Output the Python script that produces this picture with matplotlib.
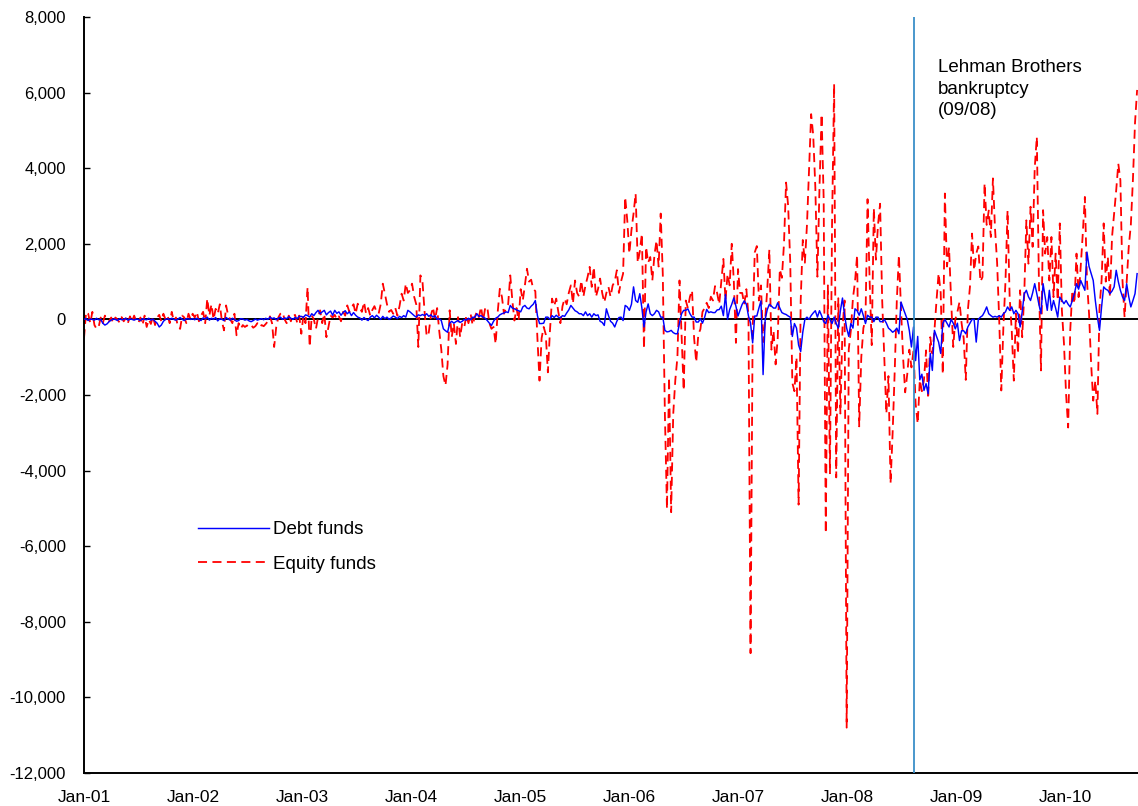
import numpy as np
import pandas as pd
import matplotlib
matplotlib.use('Agg')
import matplotlib.pyplot as plt
import matplotlib.dates as mdates
from matplotlib.ticker import FuncFormatter, MultipleLocator

plt.rcParams['font.family'] = ['Liberation Sans', 'DejaVu Sans']

# Weekly net flows (first week ending 2001-01-05), one list per calendar block
equity_2001 = [-500, 200, 150, -100, 200, -150, -250, -200, 50, -100, 100, 0, -50, 50, -100, 50, 0, -80, 60, -50, 30, -100, 80, -60, 100, -50,
               -100, 50, -150, 100, -200, 0, -120, 80, -150, 50, 120, -50, 150, 0, 100, -100, 200, -50, 50, -200, -250, 100, 50, -100, 150, 0]
equity_2002 = [150, 50, 200, -50, 100, 200, -100, 550, 100, 400, 0, 280, 150, 400, -50, -290, 370, 100, 0, -100, 150, -420, -100, -250, -150, -200,
               -160, -200, -150, -220, -180, -100, -200, -150, -180, -120, -50, 80, -100, -730, -200, 50, 150, 190, 0, -100, 100, -50, 80, 120, -80, 100]
equity_2003 = [-380, 100, -100, 850, -730, 100, 0, -250, 50, 240, -100, 150, -470, -200, 100, 50, 120, 0, 80, -50, 200, 100, 370, 200, 300, 400,
               150, 415, 300, 200, 460, 150, 300, 100, 250, 350, 200, 150, 400, 945, 680, 400, 200, 250, 150, 300, 100, 350, 680, 500, 945, 700]
equity_2004 = [770, 945, 600, 400, -730, 1165, 1000, 200, -450, -350, 100, 320, 0, 300, -300, -800, -1500, -1750, -1200, 240, -470, -100, -650, 60, -470, -100,
               -200, 100, -100, 150, -150, 60, 200, 60, 330, -30, 300, 330, -100, -250, -200, -650, 200, 810, 600, 150, 300, 400, 1165, 500, -30, 300]
equity_2005 = [-30, 800, 500, 900, 1340, 1000, 1050, 800, 750, -500, -1620, -500, -200, -400, -1400, -300, 550, 350, 550, 200, -100, 350, 550, 400, 700, 900,
               420, 1030, 700, 600, 1030, 600, 900, 1120, 1390, 860, 1390, 600, 800, 1080, 700, 450, 700, 860, 600, 900, 1000, 1300, 700, 1000, 1210, 3240]
equity_2006 = [2620, 1740, 2360, 2800, 3330, 1500, 1800, 2270, -780, 1920, 1500, 1650, 1030, 1700, 2090, 1400, 2800, 1200, -2500, -5015, -1530, -5100, -2500, -1600, -1000, 1030,
               -400, -1880, 500, 300, 600, 770, -500, -1130, -400, -260, 200, 300, 440, 300, 600, 500, 880, 700, 400, 1000, 1600, 500, 1200, 900, 2000, 1000]
equity_2007 = [-620, 1330, 700, 700, 400, 800, 100, -8830, -300, 1770, 1940, 500, 900, -600, 0, 800, 1850, -800, -300, -1190, -500, 1330, 1100, 2000, 3620, 3000,
               1500, -1680, -1900, -1000, -4900, 500, 2100, 1500, 2500, 4000, 5430, 4870, 3500, 1130, 3500, 5430, 3180, -5660, 900, -4070, 2500, 6230, -4180, 560, -2490, -230]
equity_2008 = [500, -10800, -790, -300, 560, 1000, 1700, -2830, -1000, -230, 0, 3180, 1000, -680, 2940, 1580, 2500, 3060, 500, -1000, -2490, -1500, -4340, -3000, -1360, 500,
               1700, 300, -1000, -1930, -1450, -800, -1270, -820, -2230, -2760, -1600, -1900, -1600, -820, -2100, -470, -900, -300, 500, 1220, 700, -1450, 3330, 1400, 1900, 500]
equity_2009 = [-730, 0, 200, 460, -100, -500, -1600, 240, 860, 2270, 1300, 1740, 1930, 1000, 1120, 3600, 2500, 2880, 2180, 3730, 2400, 1500, 0, -1880, -200, 1000,
               2880, 590, -290, -1620, 150, -910, 770, -470, 680, 2620, 1475, 2980, 1920, 4000, 4830, 1030, -1350, 2890, 1740, 2180, 1030, 2180, 590, 1740, 500, 2540]
equity_2010 = [240, -640, -1970, -2860, -290, 770, 415, 1740, 590, 1390, 2270, 3240, 1030, 150, -1180, -2150, -1620, -2500, 300, 1030,
               2540, 1000, 1650, 590, 2180, 2800, 3420, 4120, 3680, 1030, 60, 1000, 1920, 2500, 3700, 5200, 6070]

debt_2001 = [0, 20, -30, 10, 0, -20, 30, -10, 0, -100, -150, -120, -60, -20, 10, 0, -30, 20, -10, 0, 30, -20, 10, 0, -20, 10,
             0, -30, 20, 0, -10, 30, -20, 10, -50, -100, -200, -150, -50, 0, 20, -10, 30, 0, -20, 10, 50, 0, -30, 20, 10, 0]
debt_2002 = [20, -10, 30, 0, -30, 40, 10, 60, -20, 30, 0, 50, -40, 20, 0, -30, 50, 10, -20, 30, 0, -50, -30, 20, 10, -20,
             0, -40, -60, -30, 10, -20, 0, 20, -10, 30, 0, 60, 20, 40, -10, 30, 60, 0, 40, 20, 70, 30, 0, 50, 20, 80]
debt_2003 = [80, 50, 120, 100, 60, 150, 100, 180, 240, 150, 200, 240, 120, 180, 220, 110, 240, 160, 200, 110, 180, 230, 150, 200, 100, 180,
             110, 60, 40, -20, 50, 0, -30, 60, 100, 40, 110, 60, 0, 80, 20, 60, 0, 40, 90, 60, 20, 80, 50, 100, 60, 240]
debt_2004 = [200, 150, 100, 60, 120, 100, 130, 100, 150, 80, 120, 60, 100, 0, 20, -30, -250, -300, -340, -100, -50, -100, -60, -30, -80, -50,
             0, -20, 30, -10, 60, 50, 150, 80, 100, 60, 30, -30, -100, -160, -50, 30, 60, 120, 150, 170, 200, 180, 370, 300, 280, 250]
debt_2005 = [230, 200, 330, 370, 300, 280, 350, 400, 500, 100, -110, -110, -100, 60, 60, 0, 100, 50, 110, 60, 40, 100, 80, 170, 250, 370,
             300, 230, 200, 150, 150, 100, 200, 100, 150, 60, 150, 100, 120, -50, -80, -160, 280, 100, -50, -100, -200, -50, 50, 60, -30, 370]
debt_2006 = [330, 240, 400, 860, 500, 450, 680, 300, -200, 200, 410, 150, 100, 150, 240, 200, 60, 60, -290, -330, -320, -290, -350, -380, -380, -100,
             150, 240, 240, 280, 150, 60, 60, -70, -70, 20, -100, 50, 265, 180, 200, 180, 180, 250, 260, 350, 100, 660, 0, 260, 400, 570]
debt_2007 = [350, 90, 250, 400, 490, 400, 90, -100, -620, 90, 90, 300, 490, -1460, 0, 260, 400, 350, 300, 300, 440, 300, 180, 150, 130, 90,
             60, -450, -110, -230, -680, -850, -340, 0, 60, 0, 100, 170, 230, 60, 230, 100, -60, -110, 110, 0, -110, 60, -110, -230, 230, 565]
debt_2008 = [110, -230, -450, -110, -230, 280, 230, 110, 280, 100, -110, 110, 60, 60, -60, 60, 60, -60, -60, 0, -100, -230, -280, -340, -300, -230,
             -380, 460, 300, 150, 0, -300, -730, -200, -1090, -450, -1600, -1450, -1880, -1700, -1970, -900, -1350, -290, -450, -600, -900, -110, 0, -100, -200, 0]
debt_2009 = [-100, -250, -100, -560, -300, -300, -380, -200, -100, 0, 0, -600, 0, 60, 100, 200, 330, 150, 100, 60, 80, 60, 100, 60, 150, 200,
             330, 240, 330, 150, 240, 150, -200, 200, 680, 770, 600, 500, 700, 945, 680, 400, 150, 945, 600, 240, 770, 240, 500, 300, 60, 590]
debt_2010 = [500, 415, 500, 400, 330, 500, 680, 945, 800, 1030, 900, 770, 1780, 1400, 1210, 1030, 500, 60, -290, 330,
             860, 800, 770, 680, 750, 860, 1300, 1000, 770, 600, 500, 945, 600, 330, 500, 680, 1210]

y_ticks = list(range(-12000, 8001, 2000))
series_labels = ['Debt funds', 'Equity funds']
event_date = '2008-08-11'
event_label = 'Lehman Brothers\nbankruptcy\n(09/08)'

equity = np.concatenate([equity_2001, equity_2002, equity_2003, equity_2004, equity_2005,
                         equity_2006, equity_2007, equity_2008, equity_2009, equity_2010])
debt = np.concatenate([debt_2001, debt_2002, debt_2003, debt_2004, debt_2005,
                       debt_2006, debt_2007, debt_2008, debt_2009, debt_2010])
dates = pd.date_range('2001-01-01', periods=len(equity), freq='7D')

W, H = 1138, 806
fig = plt.figure(figsize=(W / 100, H / 100), dpi=100)
ax = fig.add_axes([84 / W, (H - 773) / H, (W - 84) / W, (773 - 17) / H])

ax.axhline(0, color='black', lw=1.4, zorder=1)
ax.plot(dates, equity, color='#FF0000', lw=1.3, dashes=(5, 3), label=series_labels[1], zorder=2)
ax.plot(dates, debt, color='#0000FF', lw=1.05, label=series_labels[0], zorder=3)
ax.axvline(pd.Timestamp(event_date), color='#3a8fc8', lw=1.3, zorder=4)

ax.set_xlim(pd.Timestamp('2001-01-01'), dates[-1] + pd.Timedelta(days=3))
ax.set_ylim(-12000, 8000)
ax.set_yticks(y_ticks)
ax.yaxis.set_major_formatter(FuncFormatter(lambda v, p: f'{int(v):,}'))
ax.xaxis.set_major_locator(mdates.YearLocator())
ax.xaxis.set_major_formatter(mdates.DateFormatter('%b-%y'))
ax.tick_params(axis='y', direction='in', length=4, width=1, labelsize=12, pad=13)
ax.tick_params(axis='x', length=0, labelsize=12.5, pad=12)
for s in ['top', 'right']:
    ax.spines[s].set_visible(False)
for s in ['left', 'bottom']:
    ax.spines[s].set_linewidth(1.4)
    ax.spines[s].set_color('black')

handles, labels = ax.get_legend_handles_labels()
ax.legend([handles[1], handles[0]], [labels[1], labels[0]], loc='upper left',
          bbox_to_anchor=((198 - 84) / 1054, (773 - 521) / 756), frameon=False,
          fontsize=13.5, handlelength=3.8, handletextpad=0.2, labelspacing=0.93,
          borderaxespad=0, borderpad=0)

ax.text((938 - 84) / 1054, (773 - 59) / 756, event_label, transform=ax.transAxes,
        ha='left', va='top', fontsize=13.5, linespacing=1.36)

fig.savefig('out.png', dpi=100)
